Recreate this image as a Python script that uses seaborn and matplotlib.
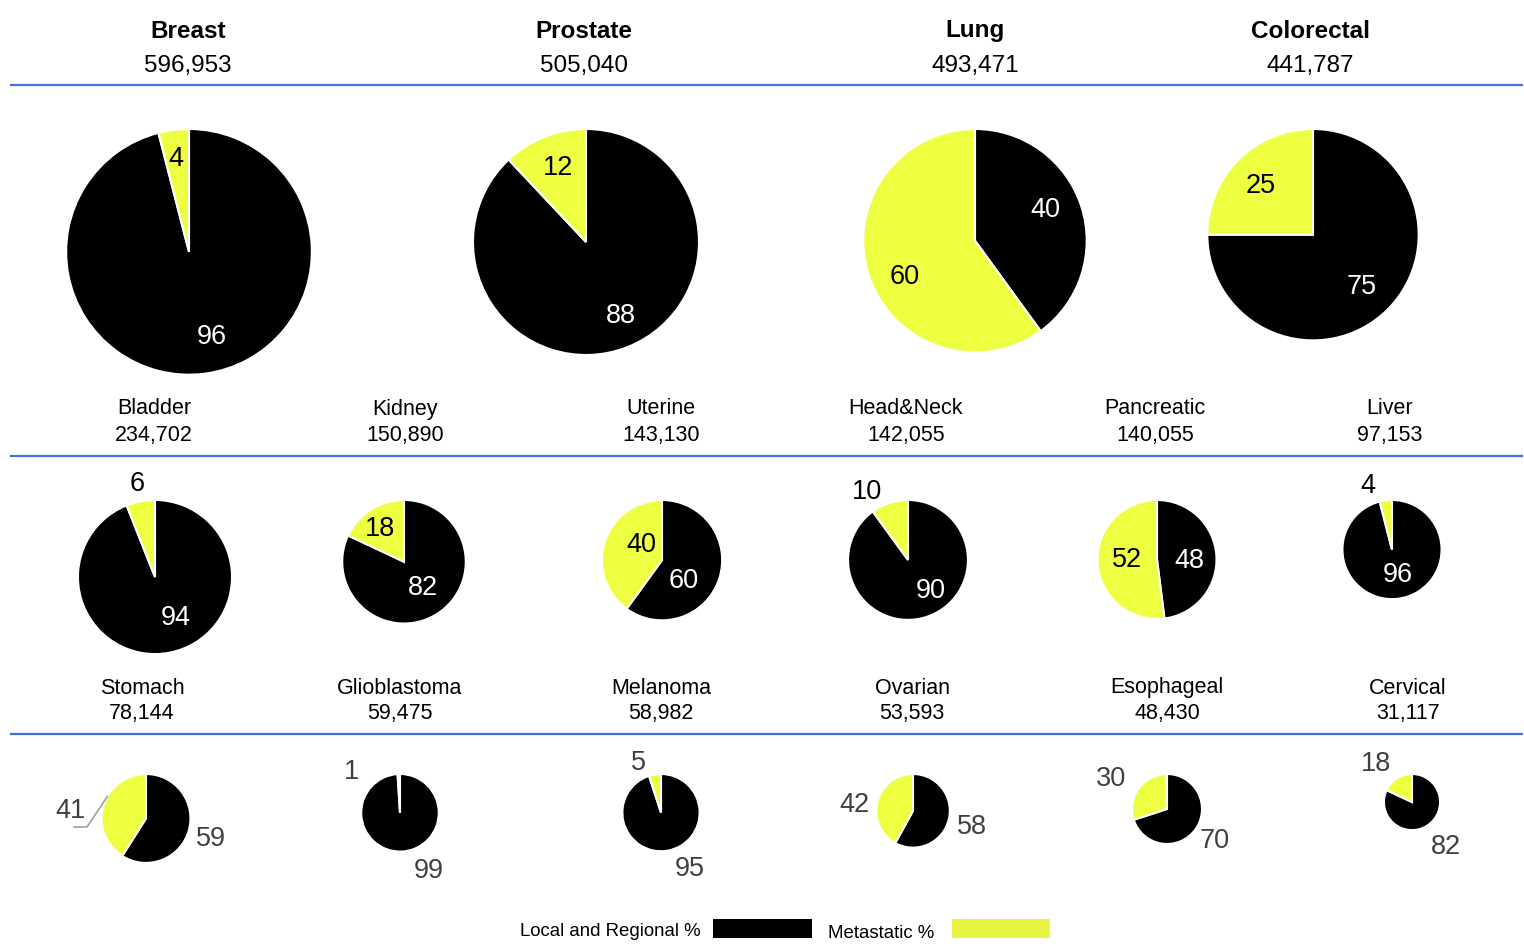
import matplotlib
matplotlib.use("Agg")
import matplotlib.pyplot as plt
import seaborn as sns
import numpy as np
from matplotlib.patches import Rectangle

sns.set_theme(style="white")
plt.rcParams['font.family'] = ['Liberation Sans', 'DejaVu Sans']

# ---------------- data ----------------
row1_names = ["Breast", "Prostate", "Lung", "Colorectal"]
row1_totals = [596953, 505040, 493471, 441787]
row1_local = [96, 88, 40, 75]
row1_met = [4, 12, 60, 25]

row2_names = ["Bladder", "Kidney", "Uterine", "Head&Neck", "Pancreatic", "Liver"]
row2_totals = [234702, 150890, 143130, 142055, 140055, 97153]
row2_local = [94, 82, 60, 90, 48, 96]
row2_met = [6, 18, 40, 10, 52, 4]

row3_names = ["Stomach", "Glioblastoma", "Melanoma", "Ovarian", "Esophageal", "Cervical"]
row3_totals = [78144, 59475, 58982, 53593, 48430, 31117]
row3_local = [59, 99, 95, 58, 70, 82]
row3_met = [41, 1, 5, 42, 30, 18]

legend_labels = ["Local and Regional %", "Metastatic %"]

# ---------------- layout (pixels, y from top) ----------------
W, H = 1524, 944
BLACK = "#000000"
YELLOW = "#EEFF41"
BLUE = "#4472DB"
TDY = 2  # text vertical nudge (px, downwards)

rows = [
    dict(names=row1_names, totals=row1_totals, local=row1_local, met=row1_met,
         xs=[189, 586, 975, 1313], hx=[188, 584, 975, 1310],
         name_y=29, num_y=64, line_y=85, pie_top=129,
         title_size=17.5, title_bold=True, num_size=17.5,
         # (distance in radii, angle deg) for local label then metastatic label
         lab=[[(0.70, -74.5), (0.78, 97.8)],
              [(0.71, -64), (0.72, 110.2)],
              [(0.69, 24.9), (0.70, 206.2)],
              [(0.66, -46.2), (0.69, 135.6)]],
         style="in"),
    dict(names=row2_names, totals=row2_totals, local=row2_local, met=row2_met,
         xs=[155, 404, 662, 908, 1157, 1392], hx=[154, 405, 661, 906, 1155, 1390],
         name_y=407, num_y=433, line_y=456, pie_top=500,
         title_size=15.5, title_bold=False, num_size=15.5,
         lab=[[(0.57, -62.2), (1.26, 100.4)],
              [(0.50, -51.6), (0.68, 125.2)],
              [(0.48, -40.8), (0.44, 141)],
              [(0.62, -51.6), (1.35, 120.4)],
              [(0.55, 1.7), (0.50, 178)],
              [(0.48, -75.4), (1.40, 110)]],
         style="in"),
    dict(names=row3_names, totals=row3_totals, local=row3_local, met=row3_met,
         xs=[146, 400, 661, 913, 1167, 1412], hx=[142, 400, 661, 912, 1167, 1408],
         name_y=686, num_y=712, line_y=734, pie_top=774,
         title_size=15.5, title_bold=False, num_size=15.5,
         lab=[[(1.53, -16), (1.72, 172.6)],
              [(1.62, -62.6), (1.68, 138.7)],
              [(1.60, -62.2), (1.46, 113.9)],
              [(1.66, -13.6), (1.60, 172)],
              [(1.62, -32), (1.84, 150.3)],
              [(1.96, -51.7), (1.92, 132)]],
         style="out"),
]

SCALE = 0.159  # px radius per sqrt(count)

fig = plt.figure(figsize=(W / 100, H / 100), dpi=100)
ax = fig.add_axes([0, 0, 1, 1])


def Y(y):
    return H - y


for row in rows:
    for i, name in enumerate(row["names"]):
        x = row["xs"][i]
        hx = row["hx"][i]
        ax.text(hx, Y(row["name_y"] + TDY), name, ha="center", va="center",
                fontsize=row["title_size"], fontweight="bold" if row["title_bold"] else "normal",
                color="black")
        ax.text(hx, Y(row["num_y"] + TDY), f"{row['totals'][i]:,}", ha="center", va="center",
                fontsize=row["num_size"], color="black")
        r = SCALE * np.sqrt(row["totals"][i])
        cy = Y(row["pie_top"] + r)
        vals = [row["local"][i], row["met"][i]]
        ax.pie(vals, colors=[BLACK, YELLOW], startangle=90, counterclock=False,
               center=(x, cy), radius=r, frame=True,
               wedgeprops=dict(edgecolor="white", linewidth=1.5))
        for j, v in enumerate(vals):
            d, ang = row["lab"][i][j]
            tx = x + d * r * np.cos(np.radians(ang))
            ty = cy + d * r * np.sin(np.radians(ang)) - TDY
            if row["style"] == "out":
                col = "#404040"
            elif d > 1.0:
                col = "black"
            else:
                col = "white" if j == 0 else "black"
            ax.text(tx, ty, str(v), ha="center", va="center", fontsize=19.5, color=col)
    ax.plot([10, 1523], [Y(row["line_y"]), Y(row["line_y"])], color=BLUE, lw=1.6,
            solid_capstyle="butt")

# leader line for Stomach metastatic label
r_st = SCALE * np.sqrt(row3_totals[0])
cy_st = Y(774 + r_st)
a = np.radians(150)
ex, ey = 146 + r_st * np.cos(a), cy_st + r_st * np.sin(a)
ax.plot([ex, 87, 74], [ey, Y(827), Y(827)], color="#A0A0A0", lw=1.2)

# legend
ax.text(701, Y(930 + TDY), legend_labels[0], ha="right", va="center", fontsize=13.4, color="black")
ax.add_patch(Rectangle((713, Y(938)), 99, 19, facecolor=BLACK, edgecolor="none"))
ax.text(828, Y(931 + TDY), legend_labels[1], ha="left", va="center", fontsize=13.4, color="black")
ax.add_patch(Rectangle((952, Y(938)), 98, 19, facecolor="#E8F542", edgecolor="none"))

ax.set_xlim(0, W)
ax.set_ylim(0, H)
ax.set_aspect("equal")
ax.axis("off")

fig.savefig("out.png", dpi=100, facecolor="white")
